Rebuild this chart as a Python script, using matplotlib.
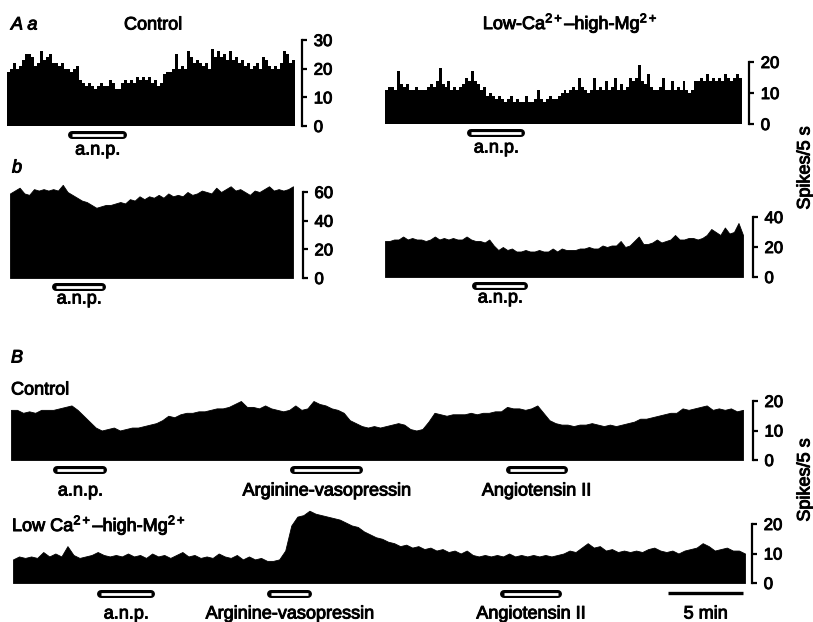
import numpy as np
import matplotlib
matplotlib.use('Agg')
import matplotlib.pyplot as plt
import matplotlib.patheffects as pe
from matplotlib.transforms import blended_transform_factory

plt.rcParams['font.family'] = ['Liberation Sans', 'DejaVu Sans']
plt.rcParams['mathtext.fontset'] = 'custom'
plt.rcParams['mathtext.rm'] = 'Liberation Sans'
plt.rcParams['mathtext.it'] = 'Liberation Sans:italic'
plt.rcParams['mathtext.bf'] = 'Liberation Sans:bold'
plt.rcParams['mathtext.default'] = 'regular'

W, H = 813, 622
HEAVY = [pe.withStroke(linewidth=0.7, foreground='black')]

# ---------------- data (spikes / 5 s bins) ----------------
aa_control = [19, 20, 22, 20, 21, 23, 25, 25, 24, 21, 22, 26, 23, 24, 25, 22, 22, 21, 22, 20,
              20, 19, 20, 21, 16, 15, 14, 15, 14, 13, 14, 15, 14, 14, 16, 15, 13, 13, 15, 16,
              15, 16, 15, 17, 16, 17, 16, 17, 15, 16, 14, 15, 18, 19, 19, 20, 25, 20, 21, 20,
              26, 24, 22, 23, 22, 21, 22, 20, 27, 24, 26, 24, 25, 23, 26, 23, 24, 22, 23, 21,
              22, 20, 21, 22, 20, 24, 23, 21, 20, 21, 20, 22, 26, 25, 22, 23]
aa_lowca = [11, 12, 12, 11, 17, 13, 12, 13, 11, 11, 12, 11, 11, 11, 12, 13, 12, 14, 18, 13,
            12, 14, 11, 12, 11, 12, 13, 15, 14, 17, 14, 13, 11, 12, 9, 10, 9, 8, 9, 8,
            7, 8, 9, 7, 8, 7, 7, 9, 7, 7, 8, 11, 8, 7, 8, 9, 8, 8, 9, 10,
            11, 10, 11, 12, 11, 15, 12, 11, 10, 11, 15, 11, 12, 11, 14, 11, 12, 15, 11, 13,
            11, 12, 15, 14, 15, 19, 14, 13, 16, 12, 11, 11, 12, 15, 11, 11, 14, 11, 12, 11,
            14, 11, 10, 11, 14, 14, 15, 14, 16, 14, 15, 14, 15, 14, 16, 15, 14, 15, 16, 15]
ab_control = [59, 61, 63, 59, 58, 62, 61, 62, 61, 62, 61, 65, 60, 58, 56, 54, 53, 51, 49, 50,
              51, 51, 52, 53, 52, 55, 54, 57, 55, 57, 56, 58, 56, 59, 57, 58, 57, 60, 58, 59,
              61, 60, 59, 63, 60, 62, 64, 61, 62, 60, 58, 61, 60, 62, 64, 61, 62, 61, 62, 64]
ab_lowca = [24, 24, 25, 25, 27, 25, 26, 25, 25, 24, 25, 27, 25, 26, 25, 26, 25, 25, 27, 25,
            24, 24, 23, 25, 21, 18, 20, 18, 19, 17, 17, 18, 17, 17, 18, 17, 17, 19, 17, 19,
            18, 18, 18, 19, 19, 20, 19, 19, 21, 20, 21, 21, 24, 20, 21, 24, 27, 22, 22, 23,
            25, 23, 24, 25, 28, 25, 25, 26, 26, 25, 26, 28, 32, 30, 28, 33, 29, 30, 36, 28]
b_control = [17, 17, 16, 16.5, 16, 17, 17, 17, 17.5, 18, 18.5, 17, 15, 13, 11, 10, 10.5, 11, 10, 10.5,
             11, 11, 11.5, 12, 12.5, 13.5, 15, 14.5, 15.5, 16, 16, 16.5, 16.5, 17, 17.5, 17.5, 18, 19, 20, 18,
             18, 17.5, 18.5, 17.5, 17, 16.5, 17, 18.5, 17, 17.5, 20, 19, 18.5, 17.5, 17, 16, 13.5, 12.5, 11.5, 11,
             11.5, 11, 11.5, 12, 12.5, 12, 10.5, 10, 10.5, 13, 16, 15.5, 15, 15.5, 15.5, 15.5, 16, 15.5, 16, 16,
             16.5, 16.5, 18, 17.5, 17.5, 17, 17.5, 18.5, 16, 13.5, 12.5, 12, 12, 11.5, 12, 12, 12.5, 12, 11.5, 12,
             11.5, 12, 12.5, 13, 14, 14, 14.5, 15, 15.5, 16, 16, 17.5, 17, 17.5, 18, 18.5, 17, 17.5, 17, 17.5,
             16.5, 17]
b_lowca = [8, 9, 8.5, 9, 8.5, 10.5, 9, 10, 9, 12.5, 9.5, 8.5, 9, 9.5, 10.5, 9.5, 9, 9.5, 9, 10,
           9, 9.5, 8.5, 10, 9, 9.5, 8.5, 9.5, 10.5, 9, 9.5, 8.5, 9, 8.5, 10, 9, 8.5, 9.5, 8, 9,
           8, 8.5, 7.5, 7.5, 8, 11, 19.5, 22.5, 23, 24.5, 23.5, 23, 22.5, 22, 21.5, 20.5, 19.5, 19, 17.5, 16.5,
           15.5, 15, 14, 13.5, 12.5, 13, 12, 12.5, 11.5, 12, 11, 11.5, 10.5, 11, 10, 11, 9.5, 9, 9.5, 9,
           9.5, 9, 10, 9, 9.5, 9, 9.5, 9, 9.5, 9, 9.5, 10, 11, 10.5, 12, 13.5, 12, 12.5, 11, 11.5,
           10.5, 11, 10.5, 11, 10.5, 11.5, 12, 11, 10.5, 11, 10, 11, 11.5, 12, 13.5, 12.5, 11, 11.5, 12, 11,
           11, 10]

# stimulus periods (bin units for A, minutes for B)
aa_control_anp = (20.3, 40.0)
aa_lowca_anp = (27.6, 47.1)
ab_control_anp = (8.75, 20.0)
ab_lowca_anp = (19.2, 31.6)
b_control_stim = [(2.8, 6.35, 'a.n.p.'), (18.45, 23.3, 'Arginine-vasopressin'), (32.7, 36.8, 'Angiotensin II')]
b_lowca_stim = [(5.55, 9.4, 'a.n.p.'), (16.8, 19.8, 'Arginine-vasopressin'), (32.2, 36.3, 'Angiotensin II')]
scale_bar = (43.3, 48.3, '5 min')
B_DT = 0.4  # minutes per bin

fig = plt.figure(figsize=(W / 100, H / 100), dpi=100)
fig.patch.set_facecolor('white')


def add_panel(x0, x1, y_top, y_base, ymax, ticks, xlim, offset=6):
    ax = fig.add_axes([x0 / W, 1 - y_base / H, (x1 - x0) / W, (y_base - y_top) / H])
    ax.set_xlim(*xlim)
    ax.set_ylim(0, ymax)
    for s in ['top', 'left', 'bottom']:
        ax.spines[s].set_visible(False)
    ax.spines['right'].set_position(('outward', offset))
    ax.spines['right'].set_linewidth(1.6)
    ax.spines['right'].set_bounds(0, ymax)
    ax.yaxis.tick_right()
    ax.set_yticks(ticks)
    ax.tick_params(axis='y', direction='out', length=3.5, width=1.6, pad=5, labelsize=12)
    for lb in ax.get_yticklabels():
        lb.set_path_effects(HEAVY)
    ax.set_xticks([])
    ax.patch.set_visible(False)
    return ax


def fill_step(ax, vals):
    v = np.asarray(vals, dtype=float)
    x = np.arange(len(v) + 1)
    y = np.append(v, v[-1])
    ax.fill_between(x, 0, y, step='post', color='black', lw=0, clip_on=False)


def fill_line(ax, x, vals):
    ax.fill_between(x, 0, vals, color='black', lw=0.6, edgecolor='black', clip_on=False)


def stim_bar(ax, t0, t1, ypx, label=None, label_ypx=None, solid=False):
    bb = ax.get_position()
    xl = ax.get_xlim()
    ppd = bb.width * W / (xl[1] - xl[0])
    tr = blended_transform_factory(ax.transData, fig.transFigure)
    y = 1 - ypx / H
    if solid:
        ax.plot([t0, t1], [y, y], transform=tr, color='black', lw=2.4, solid_capstyle='butt', clip_on=False)
    else:
        sh = 4 / ppd
        ax.plot([t0 + sh, t1 - sh], [y, y], transform=tr, color='black', lw=8 * 0.72,
                solid_capstyle='round', clip_on=False)
        ax.plot([t0 + sh, t1 - sh], [y, y], transform=tr, color='white', lw=2.8 * 0.72,
                solid_capstyle='butt', clip_on=False)
    if label:
        ax.text((t0 + t1) / 2, 1 - label_ypx / H, label, transform=tr, ha='center', va='center',
                fontsize=13, clip_on=False, path_effects=HEAVY)


# ---- A a control
ax1 = add_panel(7, 295, 40, 126, 30, [0, 10, 20, 30], (0, len(aa_control)), offset=5)
fill_step(ax1, aa_control)
stim_bar(ax1, *aa_control_anp, 134.5, 'a.n.p.', 150)

# ---- A a low Ca
ax2 = add_panel(385, 742, 62, 124, 20, [0, 10, 20], (0, len(aa_lowca)), offset=5)
fill_step(ax2, aa_lowca)
stim_bar(ax2, *aa_lowca_anp, 132.5, 'a.n.p.', 148)

# ---- A b control
ax3 = add_panel(10, 293, 192, 278, 60, [0, 20, 40, 60], (0, len(ab_control) - 1), offset=7)
fill_line(ax3, np.arange(len(ab_control)), ab_control)
stim_bar(ax3, *ab_control_anp, 286.5, 'a.n.p.', 299)

# ---- A b low Ca
ax4 = add_panel(385, 743, 217, 277, 40, [0, 20, 40], (0, len(ab_lowca) - 1), offset=7)
fill_line(ax4, np.arange(len(ab_lowca)), ab_lowca)
stim_bar(ax4, *ab_lowca_anp, 285.5, 'a.n.p.', 298)

# ---- B control
xb = np.arange(len(b_control)) * B_DT
ax5 = add_panel(11, 743, 401, 460, 20, [0, 10, 20], (0, xb[-1]), offset=7)
fill_line(ax5, xb, b_control)
for t0, t1, lab in b_control_stim:
    stim_bar(ax5, t0, t1, 470, lab, 491)

# ---- B low Ca
xl_ = np.arange(len(b_lowca)) * B_DT
ax6 = add_panel(13, 745, 524, 583, 20, [0, 10, 20], (0, xl_[-1]), offset=5)
fill_line(ax6, xl_, b_lowca)
for t0, t1, lab in b_lowca_stim:
    stim_bar(ax6, t0, t1, 594, lab, 614)
stim_bar(ax6, scale_bar[0], scale_bar[1], 593, scale_bar[2], 614, solid=True)

# ---- texts
def ft(xpx, ypx, s, **kw):
    kw.setdefault('fontsize', 13)
    kw.setdefault('path_effects', HEAVY)
    fig.text(xpx / W, 1 - ypx / H, s, **kw)

ft(11, 25, 'A a', style='italic', ha='left', va='center')
ft(153, 25, 'Control', ha='center', va='center')
ft(570, 23, 'Low-Ca$^{2+}$–high-Mg$^{2+}$', ha='center', va='center')
ft(12, 168, 'b', style='italic', ha='left', va='center')
ft(11, 358, 'B', style='italic', ha='left', va='center')
ft(11, 390, 'Control', ha='left', va='center')
ft(12, 525, 'Low Ca$^{2+}$–high-Mg$^{2+}$', ha='left', va='center')
ft(805, 168, 'Spikes/5 s', rotation=90, ha='center', va='center')
ft(805, 480, 'Spikes/5 s', rotation=90, ha='center', va='center')

fig.savefig('out.png', dpi=100, facecolor='white')
